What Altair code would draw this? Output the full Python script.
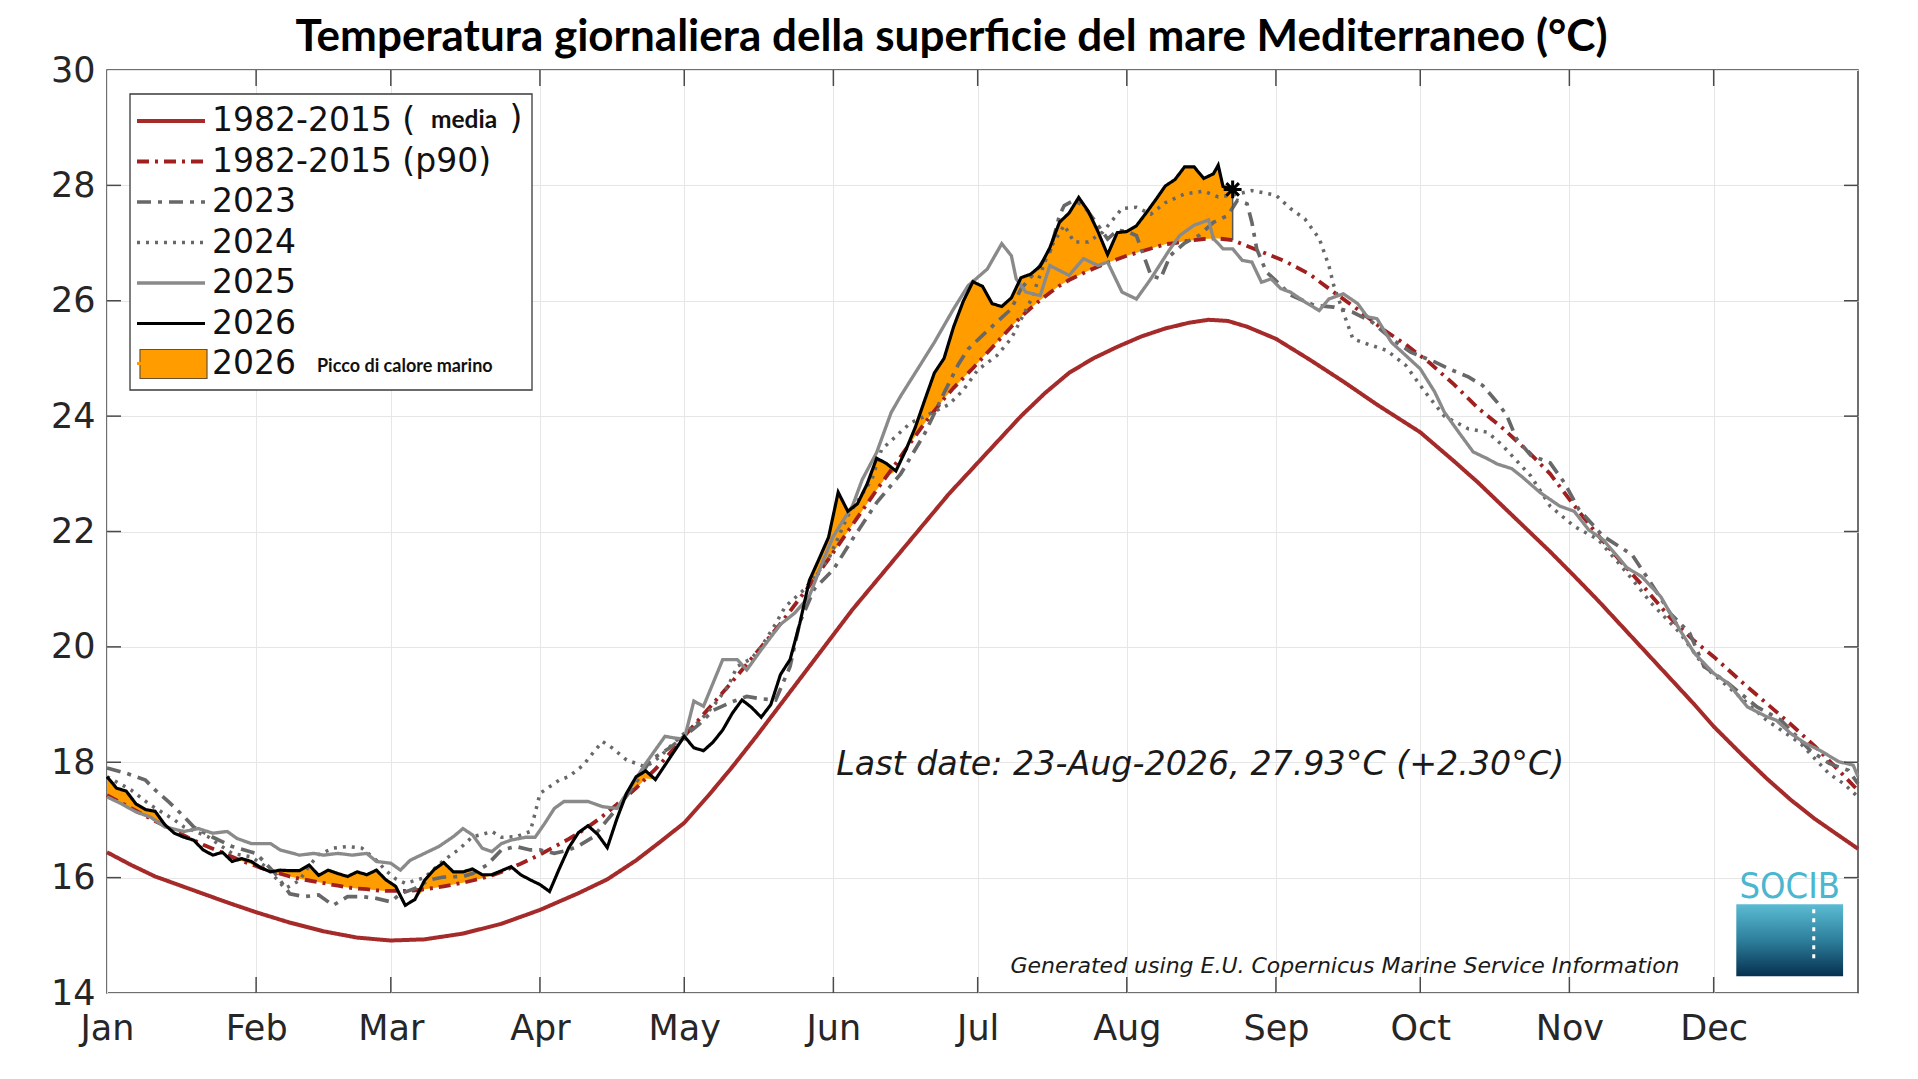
import altair as alt
import pandas as pd

W, H = 1751, 923

MONTH_DAYS = [0, 31, 59, 90, 120, 151, 181, 212, 243, 273, 304, 334]
MONTH_NAMES = ["Jan", "Feb", "Mar", "Apr", "May", "Jun", "Jul", "Aug", "Sep", "Oct", "Nov", "Dec"]
Y_TICKS = [14, 16, 18, 20, 22, 24, 26, 28, 30]

NB = "\u00a0"
LBL_MEAN = "1982-2015 ("
LBL_P90 = "1982-2015 (p90)"
LBL_FILL = "2026" + NB
SERIES = [LBL_MEAN, LBL_P90, "2023", "2024", "2025", "2026", LBL_FILL]
COLORS = ["#a52a2a", "#a01f1f", "#686868", "#686868", "#8a8a8a", "#000000", "#ff9d00"]
DASHES = [[1, 0], [12, 6, 3, 6], [14, 7, 4, 7], [3, 6], [1, 0], [1, 0], [1, 0]]
WIDTHS = [4.0, 3.0, 3.6, 3.2, 4.0, 4.6, 3.0]

# 2026 daily values (day of year, 0 = 1 Jan) and p90 climatology on the same days
D26 = [0, 2, 4, 6, 8, 10, 12, 14, 16, 18, 20, 22, 24, 26, 28, 30, 32, 34, 36, 38,
       40, 42, 44, 46, 48, 50, 52, 54, 56, 58, 60, 62, 64, 66, 68, 70, 72, 74, 76, 78,
       80, 82, 84, 86, 88, 90, 92, 94, 96, 98, 100, 102, 104, 106, 108, 110, 112, 114, 116, 118,
       120, 122, 124, 126, 128, 130, 132, 134, 136, 138, 140, 142, 144, 146, 148, 150, 152, 154, 156, 158,
       160, 162, 164, 166, 168, 170, 172, 174, 176, 178, 180, 182, 184, 186, 188, 190, 192, 194, 196, 198,
       200, 202, 204, 206, 208, 210, 212, 214, 216, 218, 220, 222, 224, 226, 228, 230, 231, 232, 234]
T26 = [17.75, 17.55, 17.50, 17.28, 17.18, 17.15, 16.92, 16.77, 16.70, 16.65,
       16.48, 16.39, 16.44, 16.28, 16.33, 16.28, 16.17, 16.10, 16.13, 16.12,
       16.12, 16.22, 16.04, 16.13, 16.07, 16.02, 16.10, 16.05, 16.13, 15.96,
       15.85, 15.52, 15.62, 15.95, 16.14, 16.26, 16.10, 16.10, 16.15, 16.05,
       16.05, 16.12, 16.19, 16.05, 15.96, 15.88, 15.76, 16.15, 16.52, 16.78,
       16.90, 16.75, 16.52, 17.02, 17.46, 17.75, 17.85, 17.70, 17.95, 18.20,
       18.45, 18.25, 18.20, 18.35, 18.56, 18.85, 19.08, 18.95, 18.78, 19.00,
       19.52, 19.78, 20.40, 21.15, 21.52, 21.90, 22.68, 22.35, 22.48, 22.82,
       23.27, 23.18, 23.05, 23.40, 23.80, 24.28, 24.75, 25.00, 25.55, 25.99,
       26.33, 26.25, 25.95, 25.90, 26.05, 26.40, 26.46, 26.60, 26.92, 27.36,
       27.52, 27.79, 27.55, 27.20, 26.80, 27.18, 27.20, 27.30, 27.52, 27.75,
       27.99, 28.10, 28.32, 28.32, 28.12, 28.20, 28.35, 27.98, 27.93]
P90_26 = [17.43, 17.34, 17.25, 17.16, 17.07, 16.98, 16.90, 16.81, 16.73, 16.65,
          16.57, 16.50, 16.43, 16.36, 16.29, 16.23, 16.17, 16.12, 16.07, 16.02,
          15.98, 15.95, 15.92, 15.89, 15.86, 15.83, 15.81, 15.80, 15.78, 15.77,
          15.77, 15.77, 15.78, 15.80, 15.82, 15.85, 15.88, 15.91, 15.95, 15.99,
          16.04, 16.10, 16.17, 16.24, 16.32, 16.40, 16.49, 16.58, 16.67, 16.77,
          16.88, 17.00, 17.13, 17.27, 17.41, 17.55, 17.72, 17.88, 18.06, 18.25,
          18.45, 18.64, 18.83, 19.02, 19.21, 19.40, 19.60, 19.80, 20.00, 20.20,
          20.40, 20.62, 20.84, 21.06, 21.29, 21.52, 21.76, 22.00, 22.24, 22.48,
          22.72, 22.95, 23.18, 23.42, 23.65, 23.88, 24.09, 24.30, 24.49, 24.66,
          24.83, 25.01, 25.19, 25.37, 25.55, 25.72, 25.87, 26.01, 26.14, 26.26,
          26.36, 26.44, 26.52, 26.59, 26.66, 26.72, 26.78, 26.83, 26.88, 26.93,
          26.98, 27.00, 27.03, 27.05, 27.07, 27.08, 27.08, 27.07, 27.05]
P90_TAIL_DAYS = [240, 245, 250, 255, 260, 265, 270, 275, 280, 285, 290, 295, 300, 305,
                 310, 315, 320, 325, 330, 334, 340, 345, 350, 355, 360, 364]
P90_TAIL = [26.85, 26.68, 26.46, 26.15, 25.85, 25.52, 25.24, 24.92, 24.55, 24.14, 23.80, 23.42, 23.00, 22.45,
            21.93, 21.45, 20.99, 20.50, 20.10, 19.83, 19.38, 19.02, 18.66, 18.28, 17.86, 17.51]

MEAN_DAYS = [0, 5, 10, 16, 20, 25, 31, 38, 45, 52, 59, 66, 74, 82, 90, 98, 104, 110, 115, 120,
             125, 130, 135, 140, 145, 150, 155, 160, 165, 170, 175, 180, 185, 190, 195, 200, 205, 210,
             215, 220, 225, 229, 233, 237, 243, 250, 257, 264, 273, 280, 285, 290, 295, 300, 305, 310,
             315, 320, 325, 330, 334, 340, 345, 350, 355, 360, 364]
MEAN_VALS = [16.44, 16.22, 16.02, 15.84, 15.72, 15.57, 15.40, 15.22, 15.07, 14.96, 14.91, 14.93, 15.03,
             15.20, 15.44, 15.73, 15.97, 16.30, 16.62, 16.95, 17.42, 17.92, 18.45, 19.00, 19.55, 20.10,
             20.65, 21.15, 21.65, 22.15, 22.65, 23.10, 23.55, 24.00, 24.40, 24.75, 25.00, 25.20, 25.38,
             25.52, 25.62, 25.67, 25.65, 25.55, 25.34, 24.98, 24.60, 24.20, 23.72, 23.22, 22.85, 22.45,
             22.05, 21.65, 21.23, 20.80, 20.35, 19.90, 19.45, 19.00, 18.62, 18.12, 17.72, 17.35, 17.02,
             16.73, 16.50]

D25 = [0, 3, 6, 9, 12, 16, 19, 22, 25, 27, 30, 34, 36, 40, 43, 45, 48, 51, 54, 56, 59, 61, 63, 66, 69,
       72, 74, 76, 78, 80, 82, 84, 87, 89, 91, 93, 95, 100, 103, 106, 108, 112, 116, 118, 120, 122, 124,
       128, 131, 133, 136, 140, 143, 146, 149, 151, 155, 157, 160, 163, 165, 169, 172, 176, 179, 183,
       186, 188, 189, 191, 194, 196, 200, 203, 206, 208, 211, 214, 217, 221, 223, 226, 229, 230, 232,
       234, 236, 238, 240, 242, 244, 246, 249, 252, 254, 257, 260, 262, 264, 267, 270, 273, 276, 278,
       281, 284, 287, 289, 292, 294, 298, 302, 305, 308, 311, 316, 319, 323, 327, 330, 334, 337, 341,
       345, 347, 350, 353, 356, 360, 363, 364]
T25 = [17.40, 17.28, 17.14, 17.05, 16.88, 16.80, 16.85, 16.77, 16.80, 16.68, 16.59, 16.59, 16.48, 16.39,
       16.42, 16.39, 16.42, 16.39, 16.42, 16.28, 16.25, 16.13, 16.30, 16.42, 16.54, 16.71, 16.85, 16.74,
       16.51, 16.45, 16.59, 16.65, 16.70, 16.70, 16.94, 17.20, 17.32, 17.32, 17.23, 17.20, 17.46, 17.98,
       18.45, 18.42, 18.40, 19.06, 18.97, 19.78, 19.78, 19.60, 19.95, 20.39, 20.59, 20.88, 21.52, 21.92,
       22.45, 22.90, 23.37, 24.06, 24.35, 24.88, 25.28, 25.86, 26.26, 26.55, 26.99, 26.78, 26.38, 26.15,
       26.09, 26.61, 26.44, 26.73, 26.61, 26.67, 26.15, 26.03, 26.38, 26.90, 27.13, 27.31, 27.40, 27.08,
       26.90, 26.90, 26.70, 26.67, 26.32, 26.38, 26.21, 26.15, 25.98, 25.83, 26.03, 26.12, 25.95, 25.72,
       25.69, 25.28, 25.05, 24.82, 24.42, 24.07, 23.72, 23.38, 23.26, 23.17, 23.09, 22.96, 22.67, 22.44,
       22.35, 22.03, 21.86, 21.37, 21.22, 20.87, 20.29, 19.89, 19.54, 19.37, 18.96, 18.79, 18.73, 18.50,
       18.33, 18.21, 18.01, 17.95, 17.75]

D24 = [0, 5, 9, 14, 16, 21, 23, 26, 30, 33, 35, 37, 40, 42, 44, 47, 50, 53, 56, 58, 60, 62, 64, 66, 68,
       70, 73, 76, 78, 80, 82, 85, 88, 89, 90, 94, 96, 99, 101, 103, 105, 108, 112, 115, 118, 120, 123,
       126, 129, 131, 134, 136, 139, 141, 145, 150, 154, 159, 161, 164, 167, 170, 175, 178, 181, 185,
       188, 192, 196, 199, 201, 204, 207, 211, 214, 217, 220, 224, 228, 231, 234, 238, 243, 246, 249,
       252, 254, 255, 257, 259, 262, 266, 270, 274, 278, 283, 287, 290, 292, 296, 300, 305, 310, 316,
       321, 327, 332, 337, 345, 352, 358, 361, 364]
T24 = [17.75, 17.52, 17.26, 17.00, 16.88, 16.71, 16.59, 16.42, 16.36, 16.19, 16.00, 15.81, 15.95, 16.20,
       16.40, 16.51, 16.54, 16.51, 16.30, 16.12, 15.98, 15.90, 15.95, 16.00, 16.15, 16.30, 16.48, 16.71,
       16.75, 16.80, 16.70, 16.71, 16.80, 17.12, 17.46, 17.69, 17.75, 17.95, 18.16, 18.36, 18.25, 18.04,
       17.92, 18.10, 18.35, 18.50, 18.70, 18.97, 19.30, 19.66, 19.80, 20.00, 20.40, 20.70, 21.00, 21.52,
       22.27, 22.90, 23.42, 23.65, 23.88, 24.00, 24.20, 24.45, 24.80, 25.05, 25.35, 26.00, 26.90, 27.31,
       27.02, 27.02, 27.19, 27.60, 27.62, 27.50, 27.70, 27.85, 27.90, 27.80, 27.83, 27.91, 27.83, 27.60,
       27.42, 27.08, 26.61, 26.27, 25.80, 25.34, 25.25, 25.14, 24.88, 24.42, 24.00, 23.78, 23.72, 23.50,
       23.32, 22.96, 22.44, 22.09, 21.86, 21.28, 20.76, 20.24, 19.66, 19.31, 18.73, 18.33, 17.80, 17.63,
       17.40]

D23 = [0, 4, 8, 10, 13, 16, 18, 22, 26, 31, 35, 38, 41, 44, 47, 50, 53, 56, 59, 61, 64, 67, 70, 74, 76,
       79, 82, 85, 88, 90, 93, 96, 98, 101, 104, 107, 110, 113, 117, 120, 123, 126, 130, 133, 136, 139,
       142, 144, 147, 151, 155, 160, 165, 170, 174, 177, 179, 182, 185, 188, 190, 193, 196, 198, 199,
       201, 203, 206, 208, 210, 212, 214, 216, 217, 219, 221, 224, 227, 230, 233, 235, 237, 238, 239,
       241, 244, 246, 251, 255, 259, 263, 267, 271, 276, 279, 283, 286, 289, 291, 293, 296, 300, 303,
       306, 311, 317, 321, 325, 329, 332, 337, 343, 348, 354, 358, 362, 364]
T23 = [17.90, 17.81, 17.69, 17.52, 17.30, 17.06, 16.88, 16.70, 16.54, 16.42, 16.07, 15.72, 15.67, 15.70,
       15.52, 15.67, 15.67, 15.64, 15.58, 15.72, 15.81, 15.96, 16.01, 16.02, 16.07, 16.22, 16.48, 16.54,
       16.48, 16.48, 16.42, 16.48, 16.55, 16.70, 17.00, 17.30, 17.65, 18.04, 18.25, 18.45, 18.65, 18.90,
       19.05, 19.14, 19.10, 19.08, 19.66, 20.42, 21.00, 21.34, 21.87, 22.50, 23.00, 23.70, 24.40, 24.90,
       25.16, 25.40, 25.63, 25.86, 26.21, 26.50, 26.84, 27.48, 27.65, 27.74, 27.65, 27.31, 27.07, 27.22,
       27.20, 27.13, 26.67, 26.44, 26.38, 26.78, 27.00, 27.13, 27.36, 27.48, 27.74, 27.68, 27.36, 26.90,
       26.50, 26.27, 26.10, 25.92, 25.89, 25.80, 25.63, 25.34, 25.11, 24.94, 24.82, 24.68, 24.53, 24.24,
       24.01, 23.61, 23.32, 23.19, 22.84, 22.38, 21.92, 21.60, 21.10, 20.58, 20.24, 19.66, 19.37, 18.96,
       18.73, 18.21, 17.98, 17.86, 17.63]


def series_df(days, vals, name):
    return pd.DataFrame({"day": days, "temp": vals, "series": name})


lines_df = pd.concat([
    series_df(MEAN_DAYS, MEAN_VALS, LBL_MEAN),
    series_df(D26 + P90_TAIL_DAYS, P90_26 + P90_TAIL, LBL_P90),
    series_df(D23, T23, "2023"),
    series_df(D24, T24, "2024"),
    series_df(D25, T25, "2025"),
    series_df(D26, T26, "2026"),
], ignore_index=True)

df26 = pd.DataFrame({"day": D26, "temp": T26, "p90": P90_26})

label_expr = "[" + ",".join("'%s'" % m for m in MONTH_NAMES) + "][indexof([" + \
    ",".join(str(d) for d in MONTH_DAYS) + "], datum.value)]"

x_enc = alt.X("day:Q", scale=alt.Scale(domain=[0, 364], nice=False, zero=False),
              axis=alt.Axis(values=MONTH_DAYS, labelExpr=label_expr, title=None, grid=True,
                            tickSize=0, domain=False, labelPadding=18, labelFontSize=35,
                            labelFlush=False, labelFont="DejaVu Sans", labelColor="#262626"))
y_enc = alt.Y("temp:Q", scale=alt.Scale(domain=[14, 30], nice=False, zero=False),
              axis=alt.Axis(values=Y_TICKS, format="d", title=None, grid=True, tickSize=0,
                            domain=False, labelPadding=12, labelFontSize=35, labelFlush=False,
                            labelFont="DejaVu Sans", labelColor="#262626"))

legend = alt.Legend(
    title=None, orient="none", legendX=28, legendY=32, padding=0,
    labelFont="DejaVu Sans", labelFontSize=33, labelColor="#111111", labelLimit=600,
    symbolType="M-3,0H1", symbolSize=1156, symbolStrokeWidth=4,
    symbolOffset=34, labelOffset=5, rowPadding=4.5,
)

fill = alt.Chart(df26).transform_calculate(
    lo="min(datum.temp, datum.p90)"
).mark_area(color="#ff9d00", opacity=1).encode(x=x_enc, y=y_enc, y2=alt.Y2("lo"))

lines = alt.Chart(lines_df).mark_line().encode(
    x="day:Q", y="temp:Q",
    color=alt.Color("series:O", scale=alt.Scale(domain=SERIES, range=COLORS), legend=legend),
    strokeDash=alt.StrokeDash("series:O", scale=alt.Scale(domain=SERIES, range=DASHES), legend=legend),
    strokeWidth=alt.StrokeWidth("series:O", scale=alt.Scale(domain=SERIES, range=WIDTHS), legend=None),
)

edge = alt.Chart(df26).transform_filter("datum.day == 234").mark_rule(
    color="#555555", strokeWidth=1.5).encode(x="day:Q", y="temp:Q", y2=alt.Y2("p90"))

star = alt.Chart(df26).transform_filter("datum.day == 234").mark_point(
    shape="M-1,0L1,0M0,-1L0,1M-0.7,-0.7L0.7,0.7M-0.7,0.7L0.7,-0.7",
    size=320, filled=False, color="black", strokeWidth=3, opacity=1
).encode(x="day:Q", y="temp:Q")

tick_color = "#4a4a4a"
xt = pd.DataFrame({"day": MONTH_DAYS[1:]})
yt = pd.DataFrame({"temp": Y_TICKS[1:-1]})
ticks = [
    alt.Chart(xt).mark_rule(color=tick_color, strokeWidth=1.5).encode(
        x="day:Q", y=alt.value(H), y2=alt.value(H - 16)),
    alt.Chart(xt).mark_rule(color=tick_color, strokeWidth=1.5).encode(
        x="day:Q", y=alt.value(0), y2=alt.value(16)),
    alt.Chart(yt).mark_rule(color=tick_color, strokeWidth=1.5).encode(
        y="temp:Q", x=alt.value(0), x2=alt.value(14)),
    alt.Chart(yt).mark_rule(color=tick_color, strokeWidth=1.5).encode(
        y="temp:Q", x=alt.value(W), x2=alt.value(W - 14)),
]

one = pd.DataFrame({"k": [0]})
legend_box = alt.Chart(one).mark_rect(fill="white", stroke="#3a3a3a", strokeWidth=1.3).encode(
    x=alt.value(23), x2=alt.value(425), y=alt.value(24), y2=alt.value(320))
fill_swatch = alt.Chart(one).mark_rect(fill="#ff9d00", stroke="#6a5030", strokeWidth=1.2).encode(
    x=alt.value(33), x2=alt.value(100), y=alt.value(279.5), y2=alt.value(308.5))

media_txt = alt.Chart(pd.DataFrame({"t": ["media"]})).mark_text(
    font="Lato", fontWeight="bold", fontSize=24.5, color="#111111", align="center", baseline="middle"
).encode(x=alt.value(357), y=alt.value(51), text="t:N")
paren_txt = alt.Chart(pd.DataFrame({"t": [")"]})).mark_text(
    font="DejaVu Sans", fontSize=33, color="#111111", align="center", baseline="middle"
).encode(x=alt.value(409), y=alt.value(49), text="t:N")
picco_txt = alt.Chart(pd.DataFrame({"t": ["Picco di calore marino"]})).mark_text(
    font="Lato", fontWeight="bold", fontSize=18, color="#111111", align="left", baseline="middle"
).encode(x=alt.value(210), y=alt.value(297), text="t:N")

ANN_DAY = [151.6]
ANN_TEMP = [17.95]
ANN_TEXT = ["Last date: 23-Aug-2026, 27.93°C (+2.30°C)"]
last_txt = alt.Chart(pd.DataFrame({"day": ANN_DAY, "temp": ANN_TEMP, "t": ANN_TEXT})).mark_text(
    font="DejaVu Sans", fontStyle="italic", fontSize=33.3, color="#1a1a1a", align="left", baseline="middle"
).encode(x="day:Q", y="temp:Q", text="t:N")

SRC_DAY = [187.8]
SRC_TEMP = [14.46]
SRC_TEXT = ["Generated using E.U. Copernicus Marine Service Information"]
src_txt = alt.Chart(pd.DataFrame({"day": SRC_DAY, "temp": SRC_TEMP, "t": SRC_TEXT})).mark_text(
    font="DejaVu Sans", fontStyle="italic", fontSize=22, color="#1a1a1a", align="left", baseline="middle"
).encode(x="day:Q", y="temp:Q", text="t:N")

# SOCIB logo
LOGO_X = [338.7]
LOGO_X2 = [360.9]
LOGO_Y = [15.54]
LOGO_Y2 = [14.29]
logo_rect = alt.Chart(pd.DataFrame({"x": LOGO_X, "x2": LOGO_X2, "y": LOGO_Y, "y2": LOGO_Y2})).mark_rect(
    color=alt.Gradient(gradient="linear",
                       stops=[alt.GradientStop(color="#5bbcd3", offset=0),
                              alt.GradientStop(color="#2d7f9c", offset=0.5),
                              alt.GradientStop(color="#06304f", offset=1)],
                       x1=0, x2=0, y1=0, y2=1)
).encode(x="x:Q", x2="x2", y="y:Q", y2="y2")
logo_dots = alt.Chart(pd.DataFrame({"x": [354.8], "y": [15.45], "y2": [14.55]})).mark_rule(
    color="white", strokeWidth=3, strokeDash=[4, 5]).encode(x="x:Q", y="y:Q", y2="y2")
logo_txt = alt.Chart(pd.DataFrame({"day": [349.8], "temp": [15.83], "t": ["SOCIB"]})).mark_text(
    font="DejaVu Sans Condensed, DejaVu Sans", fontSize=36, color="#4ab6d0", align="center",
    baseline="middle"
).encode(x="day:Q", y="temp:Q", text="t:N")

chart = alt.layer(
    fill, lines, edge, star, *ticks, legend_box, fill_swatch, media_txt, paren_txt, picco_txt,
    last_txt, src_txt, logo_rect, logo_dots, logo_txt
).properties(
    width=W, height=H,
    title=alt.TitleParams(
        "Temperatura giornaliera della superficie del mare Mediterraneo (°C)",
        font="Lato", fontSize=44, fontWeight="bold", color="#000000",
        anchor="middle", offset=-7, dx=-31),
    padding={"left": 99, "top": 62, "right": 40, "bottom": 60},
    autosize=alt.AutoSizeParams(type="none"),
).configure_view(
    stroke="#404040", strokeWidth=1.5
).configure_axis(
    gridColor="#e6e6e6", gridWidth=1
)

chart.save("out.html", embed_options={"renderer": "svg", "actions": False})
